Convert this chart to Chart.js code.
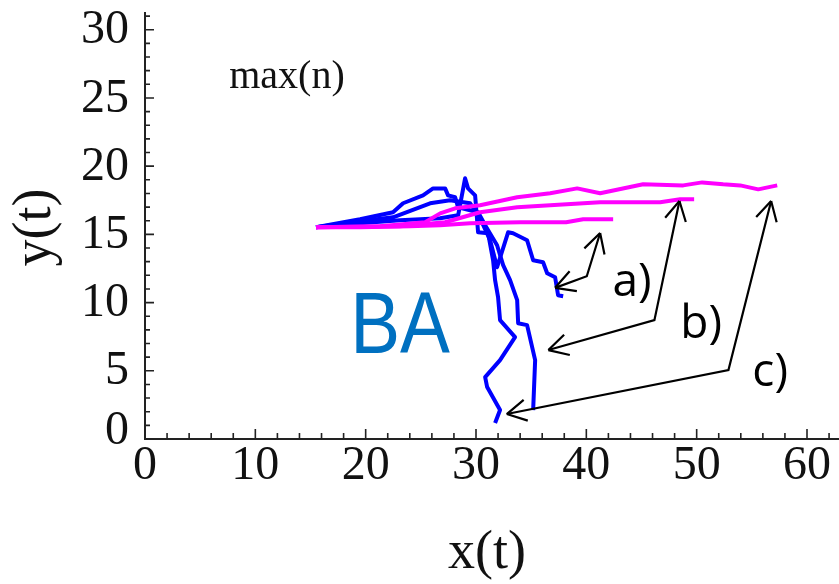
<!DOCTYPE html>
<html>
<head>
<meta charset="utf-8">
<script src="https://cdn.jsdelivr.net/npm/chart.js@4.4.0/dist/chart.umd.min.js"></script>
<style>
  html, body { margin: 0; padding: 0; background: #fff; }
  #wrap { width: 839px; height: 584px; }
</style>
</head>
<body>
<div id="wrap"><canvas id="chart"></canvas></div>
<script>
// trajectories
const blueAX = [15.5, 19.49, 22.48, 25.84, 27.65, 29.47, 30.37, 31.28, 31.91, 32.91, 33.36, 34.63, 35.18, 36.08, 36.45, 37.17, 37.44, 37.9];
const blueAY = [15.52, 15.96, 16.25, 17.28, 17.5, 17.28, 16.18, 14.57, 12.59, 15.15, 15.08, 14.57, 13.1, 12.96, 12.15, 11.86, 10.54, 10.47];

const blueBX = [15.5, 19.49, 22.48, 23.39, 25.2, 26.11, 27.2, 27.47, 28.11, 28.38, 30.19, 30.83, 31.91, 32.46, 33.09, 33.73, 33.82, 34.63, 35.36, 35.18];
const blueBY = [15.52, 16.11, 16.62, 17.28, 17.86, 18.37, 18.37, 17.86, 17.72, 16.98, 16.62, 15.67, 14.2, 12.74, 11.64, 10.18, 8.49, 8.35, 5.78, 2.12];

const blueCX = [15.5, 19.49, 23.12, 26.75, 28.38, 29.01, 29.28, 29.92, 30.19, 31.1, 31.55, 31.73, 32.0, 32.18, 33.54, 32.18, 30.83, 31.01, 32.18, 31.73];
const blueCY = [15.52, 15.81, 16.03, 16.18, 16.4, 19.11, 18.37, 17.86, 15.15, 15.08, 13.1, 11.64, 10.4, 8.71, 7.47, 5.78, 4.54, 3.81, 2.12, 1.17];

const pinkAX = [15.5, 19.49, 24.02, 26.75, 29.47, 34.0, 38.17, 39.71, 42.43];
const pinkAY = [15.52, 15.52, 15.59, 15.67, 15.81, 15.89, 15.89, 16.11, 16.11];

const pinkBX = [15.5, 23.12, 27.2, 30.37, 33.73, 36.72, 41.25, 46.69, 48.5, 49.77];
const pinkBY = [15.52, 15.59, 15.89, 16.62, 16.98, 17.13, 17.35, 17.35, 17.57, 17.57];

const pinkCX = [15.5, 21.31, 25.39, 26.75, 28.11, 30.37, 33.73, 36.72, 39.17, 41.25, 45.15, 48.78, 50.5, 52.4, 53.95, 55.58, 57.3];
const pinkCY = [15.52, 15.59, 15.89, 16.54, 16.91, 17.13, 17.72, 18.01, 18.37, 18.01, 18.67, 18.59, 18.81, 18.67, 18.59, 18.3, 18.59];

const xTicks = [0, 10, 20, 30, 40, 50, 60];
const yTicks = [0, 5, 10, 15, 20, 25, 30];

// annotation arrows (data coords): tip, bend, tip
const arrowA = [[37.17, 11.08], [40.04, 11.93], [41.25, 15.10]];
const arrowB = [[36.56, 6.52], [46.17, 8.71], [48.44, 17.45]];
const arrowC = [[32.79, 1.83], [52.88, 5.05], [56.75, 17.45]];

function pts(xs, ys) {
  return xs.map((x, i) => ({ x: x, y: ys[i] }));
}

function line(label, xs, ys, color, order) {
  return {
    label: label,
    data: pts(xs, ys),
    showLine: true,
    borderColor: color,
    backgroundColor: color,
    borderWidth: 4,
    borderJoinStyle: "round",
    pointRadius: 0,
    tension: 0,
    order: order,
  };
}

const axesPlugin = {
  id: "axes",
  beforeDatasetsDraw(chart) {
    const ctx = chart.ctx;
    const xs = chart.scales.x;
    const ys = chart.scales.y;
    const a = chart.chartArea;
    ctx.save();
    ctx.strokeStyle = "#222";
    ctx.lineWidth = 2;
    ctx.beginPath();
    ctx.moveTo(a.left, a.top);
    ctx.lineTo(a.left, a.bottom);
    ctx.lineTo(a.right, a.bottom);
    ctx.stroke();

    ctx.lineWidth = 1.6;
    ctx.beginPath();
    for (let v = 0; v <= 62; v += 2) {
      const px = xs.getPixelForValue(v);
      const len = v % 10 === 0 ? 10 : 6;
      ctx.moveTo(px, a.bottom);
      ctx.lineTo(px, a.bottom - len);
    }
    for (let v = 0; v <= 31; v += 1) {
      const py = ys.getPixelForValue(v);
      const len = v % 5 === 0 ? 9 : 5;
      ctx.moveTo(a.left, py);
      ctx.lineTo(a.left + len, py);
    }
    ctx.stroke();

    ctx.fillStyle = "#111";
    ctx.font = "48px 'Liberation Serif'";
    ctx.textAlign = "center";
    ctx.textBaseline = "middle";
    xTicks.forEach((v) => {
      ctx.fillText(String(v), xs.getPixelForValue(v), a.bottom + 27);
    });
    ctx.textAlign = "right";
    yTicks.forEach((v) => {
      ctx.fillText(String(v), a.left - 16, ys.getPixelForValue(v) + (v === 0 ? -8 : 1));
    });

    ctx.font = "54px 'Liberation Serif'";
    ctx.textAlign = "center";
    ctx.fillText("x(t)", xs.getPixelForValue(31), a.bottom + 115);
    ctx.save();
    ctx.translate(36, ys.getPixelForValue(15.5));
    ctx.rotate(-Math.PI / 2);
    ctx.fillText("y(t)", 0, 0);
    ctx.restore();

    ctx.font = "40px 'Liberation Serif'";
    ctx.fillText("max(n)", xs.getPixelForValue(12.87), ys.getPixelForValue(26.5));
    ctx.restore();
  },
  afterDatasetsDraw(chart) {
    const ctx = chart.ctx;
    const xs = chart.scales.x;
    const ys = chart.scales.y;
    const P = (p) => ({ x: xs.getPixelForValue(p[0]), y: ys.getPixelForValue(p[1]) });
    ctx.save();

    // BA label
    ctx.fillStyle = "#0070C0";
    ctx.font = "88px 'Liberation Sans'";
    ctx.textAlign = "center";
    ctx.textBaseline = "middle";
    const ba = P([23.12, 8.05]);
    ctx.save();
    ctx.translate(ba.x, ba.y);
    ctx.scale(0.85, 1);
    ctx.fillText("BA", 0, 0);
    ctx.restore();

    // arrows
    ctx.strokeStyle = "#000";
    ctx.lineWidth = 2.2;
    const head = (tip, from) => {
      const ang = Math.atan2(from.y - tip.y, from.x - tip.x);
      ctx.beginPath();
      [-0.5, 0.5].forEach((d) => {
        ctx.moveTo(tip.x, tip.y);
        ctx.lineTo(tip.x + 22 * Math.cos(ang + d), tip.y + 22 * Math.sin(ang + d));
      });
      ctx.stroke();
    };
    [arrowA, arrowB, arrowC].forEach((arr) => {
      const p = arr.map(P);
      ctx.beginPath();
      ctx.moveTo(p[0].x, p[0].y);
      ctx.lineTo(p[1].x, p[1].y);
      ctx.lineTo(p[2].x, p[2].y);
      ctx.stroke();
      head(p[0], p[1]);
      head(p[2], p[1]);
    });

    ctx.fillStyle = "#000";
    ctx.font = "46px 'Open Sans'";
    [["a)", 44.15, 11.42], ["b)", 50.41, 8.35], ["c)", 56.66, 4.83]].forEach((t) => {
      const p = P([t[1], t[2]]);
      ctx.fillText(t[0], p.x, p.y);
    });
    ctx.restore();
  },
};

new Chart(document.getElementById("chart"), {
  type: "scatter",
  data: {
    datasets: [
      line("a", pinkAX, pinkAY, "#FF00FF", 0),
      line("b", pinkBX, pinkBY, "#FF00FF", 0),
      line("c", pinkCX, pinkCY, "#FF00FF", 0),
      line("a", blueAX, blueAY, "#0000FF", 1),
      line("b", blueBX, blueBY, "#0000FF", 1),
      line("c", blueCX, blueCY, "#0000FF", 1),
    ],
  },
  options: {
    responsive: true,
    maintainAspectRatio: false,
    animation: false,
    layout: { padding: { left: 145, top: 12, right: 0, bottom: 145 } },
    plugins: { legend: { display: false }, tooltip: { enabled: false } },
    scales: {
      x: { type: "linear", min: 0, max: 62.9, display: false },
      y: { type: "linear", min: 0, max: 31.3, display: false },
    },
  },
  plugins: [axesPlugin],
});
</script>
</body>
</html>
